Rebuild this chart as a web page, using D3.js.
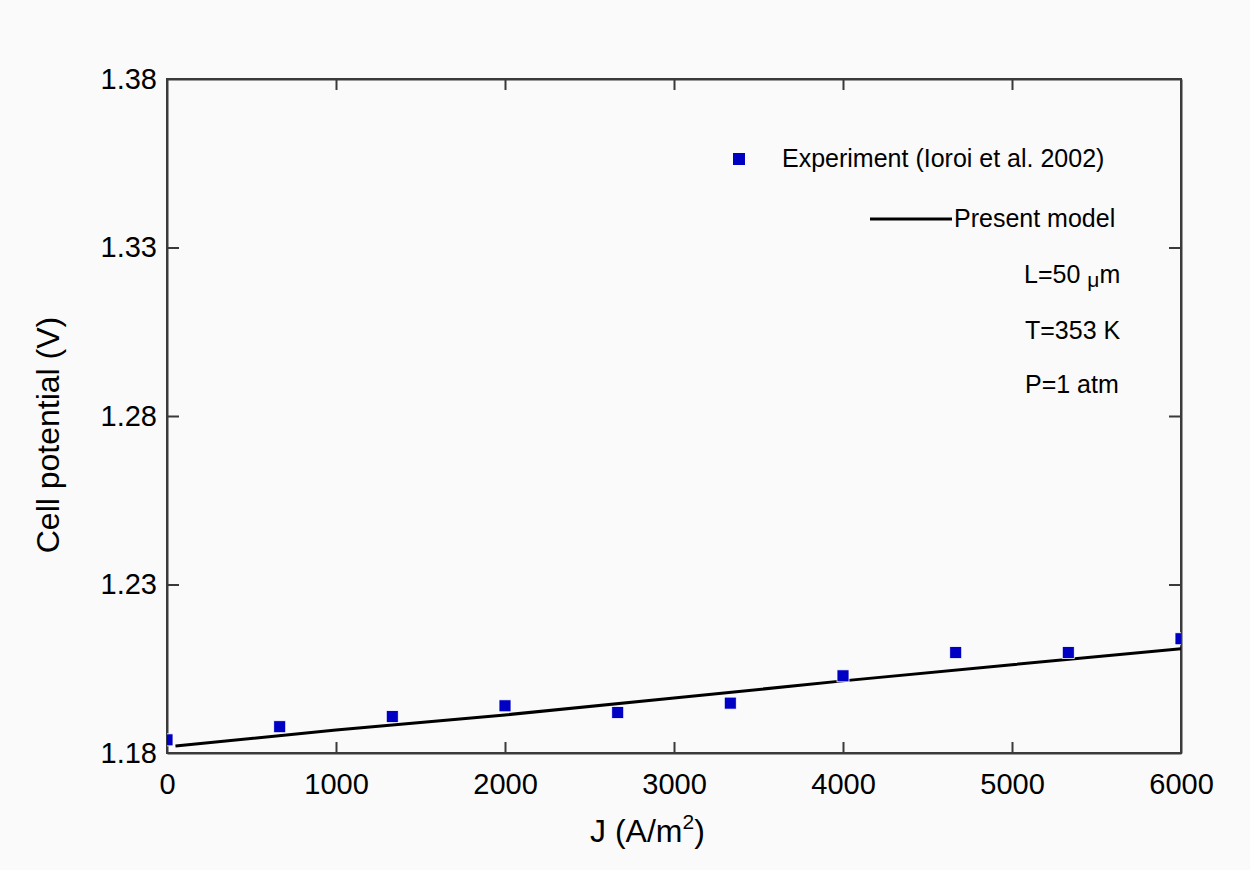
<html lang="en">

<head>
    <meta charset="UTF-8">
    <title>Cell potential vs J</title>
    <style>
        body {
            margin: 0;
            background: #fafafa;
        }

        text {
            font-family: "Liberation Sans", Arial, sans-serif;
            fill: #000;
        }

        .axis path,
        .axis line {
            stroke: #3a3a3a;
            stroke-width: 2px;
        }
    </style>
</head>

<body>
    <script src="https://d3js.org/d3.v7.min.js"></script>

    <div id="my_dataviz"></div>

    <script>

        // Data
        var expJ = [0, 667, 1333, 2000, 2667, 3333, 4000, 4667, 5333, 6000]
        var expV = [1.1839, 1.1878, 1.1908, 1.1940, 1.1920, 1.1948, 1.2029, 1.2098, 1.2098, 1.2139]

        var modelJ = [50, 1000, 2000, 3000, 4000, 5000, 6000]
        var modelV = [1.1821, 1.1868, 1.1913, 1.1963, 1.2014, 1.2062, 1.2109]

        var xTicks = [0, 1000, 2000, 3000, 4000, 5000, 6000]
        var yTicks = [1.18, 1.23, 1.28, 1.33, 1.38]

        var infoLines = ["T=353 K", "P=1 atm"]

        // Size
        var width = 1250
        var height = 870
        var margin = { left: 167, right: 69, top: 79, bottom: 117 }
        var innerW = width - margin.left - margin.right
        var innerH = height - margin.top - margin.bottom

        var svg = d3.select("#my_dataviz")
            .append("svg")
            .attr("width", width)
            .attr("height", height)
            .style("background", "#fafafa")

        var g = svg.append("g")
            .attr("transform", "translate(" + margin.left + "," + margin.top + ")")

        // Scales
        var x = d3.scaleLinear().domain([0, 6000]).range([0, innerW])
        var y = d3.scaleLinear().domain([1.18, 1.38]).range([innerH, 0])

        g.append("defs").append("clipPath")
            .attr("id", "clip")
            .append("rect")
            .attr("width", innerW)
            .attr("height", innerH)

        // Axes (ticks pointing inward on all four sides)
        g.append("g")
            .attr("class", "axis")
            .attr("transform", "translate(0," + innerH + ")")
            .call(d3.axisBottom(x).tickValues(xTicks).tickSizeInner(-11).tickSizeOuter(0).tickPadding(20).tickFormat(d3.format("d")))
            .call(function (a) { a.selectAll("text").style("font-size", "29px").attr("dy", "0.71em") })

        g.append("g")
            .attr("class", "axis")
            .call(d3.axisTop(x).tickValues(xTicks).tickSizeInner(-11).tickSizeOuter(0).tickFormat(""))

        g.append("g")
            .attr("class", "axis")
            .call(d3.axisLeft(y).tickValues(yTicks).tickSizeInner(-12).tickSizeOuter(0).tickPadding(10).tickFormat(d3.format(".2f")))
            .call(function (a) { a.selectAll("text").style("font-size", "29px") })

        g.append("g")
            .attr("class", "axis")
            .attr("transform", "translate(" + innerW + ",0)")
            .call(d3.axisRight(y).tickValues(yTicks).tickSizeInner(-12).tickSizeOuter(0).tickFormat(""))

        // hide tick marks sitting right on the frame corners
        g.selectAll(".axis .tick line").filter(function (d) {
            return d === 0 || d === 6000 || d === 1.18 || d === 1.38
        }).remove()

        // frame
        g.append("rect")
            .attr("width", innerW)
            .attr("height", innerH)
            .attr("fill", "none")
            .attr("stroke", "#3a3a3a")
            .attr("stroke-width", 2)

        // Model line
        var model = modelJ.map(function (d, i) { return [d, modelV[i]] })
        g.append("path")
            .datum(model)
            .attr("clip-path", "url(#clip)")
            .attr("fill", "none")
            .attr("stroke", "black")
            .attr("stroke-width", 3)
            .attr("d", d3.line()
                .x(function (d) { return x(d[0]) })
                .y(function (d) { return y(d[1]) }))

        // Experiment markers
        var exp = expJ.map(function (d, i) { return { j: d, v: expV[i] } })
        var ms = 12
        g.append("g")
            .attr("clip-path", "url(#clip)")
            .selectAll("rect")
            .data(exp)
            .enter()
            .append("rect")
            .attr("x", function (d) { return x(d.j) - ms / 2 })
            .attr("y", function (d) { return y(d.v) - ms / 2 })
            .attr("width", ms)
            .attr("height", ms)
            .attr("fill", "#0000c4")
            .attr("stroke", "#ffffff")
            .attr("stroke-width", 0.8)

        // Axis labels
        var xl = svg.append("text")
            .attr("x", 590)
            .attr("y", 842)
            .style("font-size", "32px")
        xl.append("tspan").text("J (A/m")
        xl.append("tspan").attr("dy", -13).style("font-size", "21px").text("2")
        xl.append("tspan").attr("dy", 13).text(")")

        svg.append("text")
            .attr("transform", "translate(59,435) rotate(-90)")
            .attr("text-anchor", "middle")
            .style("font-size", "32px")
            .text("Cell potential (V)")

        // Legend
        svg.append("rect")
            .attr("x", 739 - ms / 2)
            .attr("y", 159 - ms / 2)
            .attr("width", ms)
            .attr("height", ms)
            .attr("fill", "#0000c4")

        svg.append("text")
            .attr("x", 782)
            .attr("y", 167)
            .style("font-size", "25px")
            .text("Experiment (Ioroi et al. 2002)")

        svg.append("line")
            .attr("x1", 870)
            .attr("x2", 952)
            .attr("y1", 219)
            .attr("y2", 219)
            .attr("stroke", "black")
            .attr("stroke-width", 3)

        svg.append("text")
            .attr("x", 954)
            .attr("y", 227)
            .style("font-size", "25px")
            .text("Present model")

        var lt = svg.append("text")
            .attr("x", 1024)
            .attr("y", 283)
            .style("font-size", "25px")
        lt.append("tspan").text("L=50 ")
        lt.append("tspan").attr("dy", 4).style("font-size", "21px").text("μ")
        lt.append("tspan").attr("dy", -4).text("m")

        svg.selectAll("infoText")
            .data(infoLines)
            .enter()
            .append("text")
            .attr("x", 1025)
            .attr("y", function (d, i) { return 339 + i * 54 })
            .style("font-size", "25px")
            .text(function (d) { return d })

    </script>

</body>

</html>
